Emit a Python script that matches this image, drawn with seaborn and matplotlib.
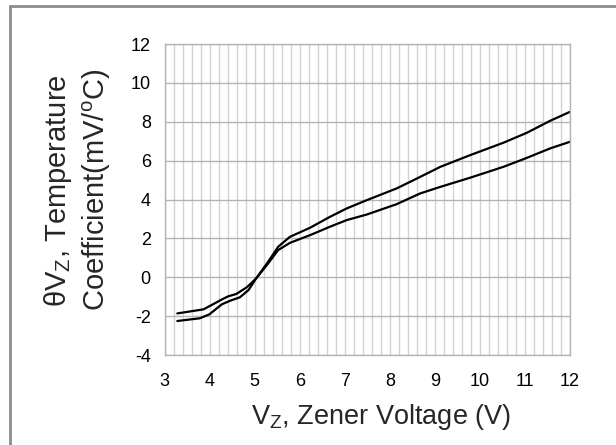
import matplotlib
matplotlib.use("Agg")
import matplotlib.pyplot as plt
import seaborn as sns
import pandas as pd
from matplotlib.lines import Line2D

# Zener temperature coefficient vs. zener voltage (upper / lower bounds)
vz_upper = [3.28, 3.86, 4.04, 4.27, 4.41, 4.59, 4.82, 5.03, 5.27, 5.52, 5.78,
            6.23, 6.67, 7.04, 7.49, 8.15, 8.60, 9.12, 9.78, 10.52, 11.04, 11.56, 12.0]
tc_upper = [-1.86, -1.65, -1.43, -1.14, -0.98, -0.86, -0.52, -0.06, 0.71, 1.57, 2.08,
            2.55, 3.11, 3.54, 3.97, 4.57, 5.08, 5.68, 6.28, 6.92, 7.43, 8.05, 8.51]
vz_lower = [3.28, 3.78, 3.99, 4.27, 4.45, 4.67, 4.86, 5.03, 5.27, 5.52, 5.78,
            6.23, 6.67, 7.04, 7.49, 8.15, 8.67, 9.12, 9.78, 10.52, 11.04, 11.56, 12.0]
tc_lower = [-2.25, -2.11, -1.91, -1.39, -1.21, -1.03, -0.66, -0.06, 0.63, 1.40, 1.77,
            2.17, 2.60, 2.94, 3.23, 3.76, 4.31, 4.65, 5.12, 5.68, 6.14, 6.63, 6.97]

x_ticks = [3, 4, 5, 6, 7, 8, 9, 10, 11, 12]
y_ticks = [-4, -2, 0, 2, 4, 6, 8, 10, 12]

sns.set_theme(style="white")
plt.rcParams["font.family"] = ["Liberation Sans", "DejaVu Sans"]
plt.rcParams["mathtext.fontset"] = "custom"
plt.rcParams["mathtext.rm"] = "Liberation Sans"
plt.rcParams["mathtext.it"] = "Liberation Sans"
plt.rcParams["axes.unicode_minus"] = False

df = pd.concat([
    pd.DataFrame({"vz": vz_upper, "tc": tc_upper, "curve": "upper"}),
    pd.DataFrame({"vz": vz_lower, "tc": tc_lower, "curve": "lower"}),
])

fig = plt.figure(figsize=(6.16, 4.45), dpi=100)
ax = fig.add_axes([0.2674, 0.2022, 0.6579, 0.6989])

# minor vertical grid every 0.2 V, horizontal grid every 2 mV/C
for i in range(46):
    ax.axvline(3 + i * 0.2, color="#d2d2d2", lw=1.0, zorder=0)
for y in y_ticks:
    ax.axhline(y, color="#b4b4b4", lw=1.0, zorder=0)

sns.lineplot(data=df, x="vz", y="tc", units="curve", estimator=None,
             color="black", lw=1.6, ax=ax, sort=False)

ax.set_xlim(3, 12)
ax.set_ylim(-4, 12)
ax.set_xticks(x_ticks)
ax.set_yticks(y_ticks)
ax.tick_params(axis="both", length=0, labelsize=13, colors="black")
ax.tick_params(axis="x", pad=13)
ax.tick_params(axis="y", pad=10)
for s in ax.spines.values():
    s.set_color("#b4b4b4")
    s.set_linewidth(1.0)

ax.set_xlabel(r"$\mathregular{V_Z}$, Zener Voltage (V)", fontsize=19.5)
ax.xaxis.set_label_coords(0.534, -0.15)
ax.set_ylabel("θ$\\mathregular{V_Z}$, Temperature\nCoefficient(mV/$\\mathregular{^o}$C)",
              fontsize=21, linespacing=1.25)
ax.yaxis.set_label_coords(-0.128, 0.53)

# outer frame
fig.add_artist(Line2D([10 / 616, 10 / 616], [0, 1 - 6 / 445], color="#8c8c8c", lw=2))
fig.add_artist(Line2D([10 / 616, 1], [1 - 6 / 445, 1 - 6 / 445], color="#8c8c8c", lw=2))

fig.savefig("out.png", dpi=100)
